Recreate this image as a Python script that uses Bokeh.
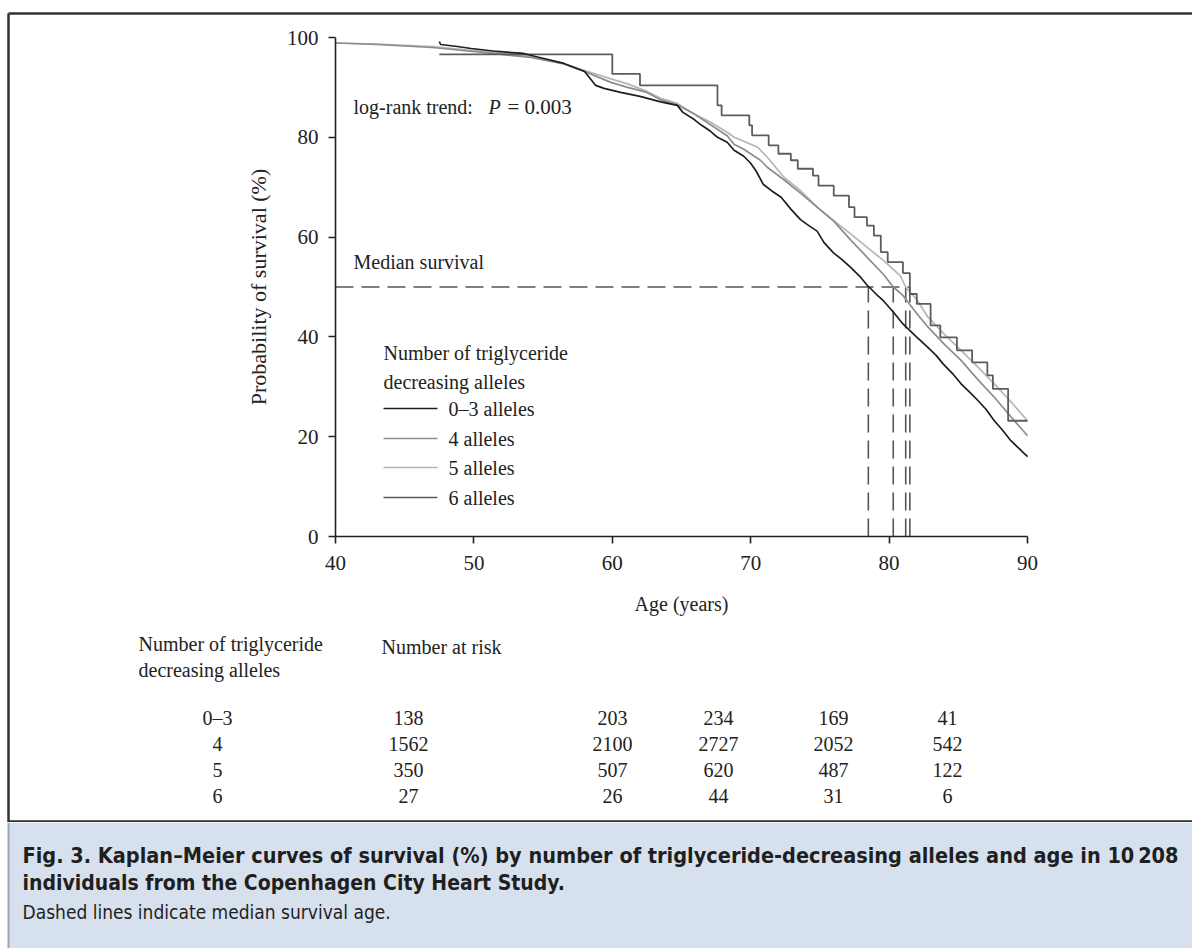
import numpy as np
from bokeh.plotting import figure
from bokeh.models import Range1d, LinearAxis, FixedTicker
from bokeh.layouts import column
from bokeh.embed import file_html
from bokeh.resources import INLINE
from bokeh.core.properties import value

# ---------------- data ----------------
age_03 = [47.5, 47.6, 48.8, 49.8, 51.7, 53.6, 54.6, 56.5, 58.0, 58.8, 59.4, 60.6, 62.0, 63.5,
          64.7, 65.1, 65.9, 66.4, 67.1, 67.6, 68.3, 68.8, 69.5, 70.0, 70.4, 70.9, 71.5, 72.2,
          72.9, 73.6, 74.2, 74.8, 75.3, 76.0, 76.6, 77.2, 77.9, 78.4, 78.7, 79.2, 79.6, 80.3,
          81.0, 81.9, 82.8, 83.4, 83.9, 84.6, 85.2, 85.8, 86.4, 87.0, 87.6, 88.2, 88.8, 89.4, 90.0]
surv_03 = [99.2, 98.6, 98.2, 97.8, 97.2, 96.8, 96.1, 94.8, 93.2, 90.4, 89.8, 89.0, 88.2, 87.1,
           86.4, 85.0, 83.6, 82.5, 81.2, 80.0, 79.0, 77.4, 76.2, 74.8, 73.2, 70.6, 69.3, 68.0,
           65.6, 63.5, 62.3, 61.2, 58.9, 56.8, 55.5, 54.0, 52.1, 50.4, 49.6, 48.2, 47.2, 45.0,
           42.6, 40.2, 37.9, 36.3, 34.6, 32.6, 30.6, 29.0, 27.3, 25.5, 23.2, 21.3, 19.2, 17.6, 16.0]

age_4 = [40.0, 43.0, 47.0, 49.2, 51.7, 54.1, 56.5, 57.9, 59.9, 61.1, 62.5, 63.5, 64.7, 65.9,
         67.1, 68.3, 68.8, 69.5, 70.7, 71.2, 72.4, 73.6, 74.8, 76.0, 77.2, 78.4, 79.6, 80.3,
         81.0, 82.0, 82.8, 84.0, 85.2, 86.4, 87.6, 88.8, 90.0]
surv_4 = [98.9, 98.6, 98.0, 97.4, 96.7, 96.0, 94.7, 93.3, 91.0, 90.0, 89.0, 87.5, 86.5, 84.7,
          82.5, 80.3, 78.6, 77.6, 75.4, 74.0, 71.5, 68.8, 66.0, 63.2, 59.5, 56.0, 52.5, 50.0,
          48.3, 44.7, 42.0, 38.5, 35.3, 31.5, 27.9, 24.0, 20.2]

age_5 = [40.0, 43.0, 47.0, 49.2, 51.7, 54.1, 56.5, 57.9, 59.9, 61.1, 62.5, 63.5, 64.7, 65.9,
         67.1, 68.3, 68.8, 69.5, 70.5, 71.2, 72.4, 73.6, 74.8, 76.0, 77.2, 78.4, 79.6, 80.8,
         81.2, 82.0, 82.8, 84.0, 85.2, 86.4, 87.6, 88.8, 90.0]
surv_5 = [98.9, 98.7, 98.2, 97.6, 96.9, 96.2, 94.8, 93.5, 91.7, 90.7, 89.2, 87.8, 86.8, 84.7,
          83.0, 81.0, 80.0, 79.2, 78.0, 76.0, 72.0, 69.3, 66.0, 63.3, 60.7, 58.0, 55.3, 52.3,
          50.0, 47.5, 44.0, 40.5, 37.3, 34.0, 30.6, 27.0, 23.2]

age_6 = [47.5, 60.0, 62.0, 67.6, 67.9, 69.9, 70.1, 71.3, 72.0, 72.9, 73.4, 74.5, 74.9, 76.0,
         77.1, 77.5, 78.4, 78.9, 79.4, 79.9, 81.0, 81.5, 82.0, 83.0, 83.7, 84.9, 86.0, 87.1,
         87.5, 88.6, 90.0]
surv_6 = [96.6, 92.7, 90.4, 86.4, 84.4, 82.4, 80.4, 78.4, 76.7, 75.4, 73.7, 72.3, 70.3, 68.3,
          66.0, 64.0, 62.3, 60.3, 57.0, 55.0, 52.8, 48.6, 46.6, 42.3, 39.9, 37.3, 34.9, 32.3,
          29.6, 23.2, 23.2]

median_ages = [78.5, 80.3, 81.2, 81.5]
median_level = 50

legend_labels = ["0\u20133 alleles", "4 alleles", "5 alleles", "6 alleles"]
risk_groups = ["0\u20133", "4", "5", "6"]
risk_0_3 = [138, 203, 234, 169, 41]
risk_4 = [1562, 2100, 2727, 2052, 542]
risk_5 = [350, 507, 620, 487, 122]
risk_6 = [27, 26, 44, 31, 6]

x_ticks = [40, 50, 60, 70, 80, 90]
y_ticks = [0, 20, 40, 60, 80, 100]

# ---------------- layout / style ----------------
W, H1, H2 = 1192, 822, 126
PX_L, PX_R, PY_T, PY_B = 335, 1027, 37, 536
sx = (PX_R - PX_L) / 50.0
sy = (PY_B - PY_T) / 100.0
x_start = 40 - PX_L / sx
x_end = 90 + (W - PX_R) / sx
y_end = 100 + PY_T / sy
y_start = 0 - (H1 - PY_B) / sy

colors = ["#1e1e1e", "#8c8c8c", "#b6b6b6", "#5c5c5c"]
SERIF = value("Liberation Serif")
TXT = "#222222"
FS = value("20px")

p = figure(width=W, height=H1, x_range=Range1d(x_start, x_end), y_range=Range1d(y_start, y_end),
           x_axis_type=None, y_axis_type=None, toolbar_location=None, output_backend="svg",
           min_border=0, min_border_left=0, min_border_right=0, min_border_top=0, min_border_bottom=0)
p.outline_line_color = None
p.background_fill_color = "white"
p.border_fill_color = "white"
p.title.visible = False
p.extra_x_ranges = {"px": Range1d(0, W)}
p.extra_y_ranges = {"px": Range1d(H1, 0)}

def style_axis(ax, label_size):
    ax.axis_line_color = "#222222"
    ax.axis_line_width = 1.6
    ax.major_tick_line_color = "#222222"
    ax.major_tick_line_width = 1.6
    ax.major_tick_out = 7
    ax.major_tick_in = 0
    ax.minor_tick_line_color = None
    ax.major_label_text_font = "Liberation Serif"
    ax.major_label_text_font_size = "21px"
    ax.major_label_text_color = TXT
    ax.axis_label_text_font = "Liberation Serif"
    ax.axis_label_text_font_size = label_size
    ax.axis_label_text_font_style = "normal"
    ax.axis_label_text_color = TXT

xaxis = LinearAxis(fixed_location=0, bounds=(40, 90), ticker=FixedTicker(ticks=x_ticks, minor_ticks=[]),
                   axis_label="Age (years)")
style_axis(xaxis, "20px")
xaxis.major_label_standoff = 12
xaxis.axis_label_standoff = 20
p.add_layout(xaxis, "below")

yaxis = LinearAxis(fixed_location=40, bounds=(0, 100), ticker=FixedTicker(ticks=y_ticks, minor_ticks=[]),
                   axis_label="Probability of survival (%)")
style_axis(yaxis, "22px")
yaxis.major_label_standoff = 10
yaxis.axis_label_standoff = 13
p.add_layout(yaxis, "left")

# outer frame of the figure
p.segment(x0=[8, 8, 8], y0=[13, 13, 821], x1=[8, W, W], y1=[822, 13, 821],
          line_color="#333333", line_width=2.5, x_range_name="px", y_range_name="px")

# median survival dashed lines
p.segment(x0=[40], y0=[median_level], x1=[max(median_ages)], y1=[median_level],
          line_color="#555555", line_width=1.6, line_dash="18 8")
p.segment(x0=median_ages, y0=[0] * len(median_ages), x1=median_ages, y1=[median_level] * len(median_ages),
          line_color="#555555", line_width=1.6, line_dash="18 8")

# survival curves
p.line(age_5, surv_5, line_color=colors[2], line_width=1.7)
p.line(age_4, surv_4, line_color=colors[1], line_width=1.7)
p.step(age_6, surv_6, mode="after", line_color=colors[3], line_width=1.8)
p.line(age_03, surv_03, line_color=colors[0], line_width=1.7)

# annotations inside the plot
p.text(x=[353], y=[106], text=["log-rank trend:"], text_font=SERIF, text_font_size=FS,
       text_color=TXT, text_baseline="alphabetic", x_range_name="px", y_range_name="px")
p.text(x=[488], y=[106], text=["P"], text_font=SERIF, text_font_size=FS, text_font_style="italic",
       text_color=TXT, text_baseline="alphabetic", x_range_name="px", y_range_name="px")
p.text(x=[507], y=[106], text=["= 0.003"], text_font=SERIF, text_font_size=value("21px"),
       text_color=TXT, text_baseline="alphabetic", x_range_name="px", y_range_name="px")
p.text(x=[353], y=[261], text=["Median survival"], text_font=SERIF, text_font_size=FS,
       text_color=TXT, text_baseline="alphabetic", x_range_name="px", y_range_name="px")

# legend (drawn by hand)
p.text(x=[383, 383], y=[352, 381], text=["Number of triglyceride", "decreasing alleles"],
       text_font=SERIF, text_font_size=FS, text_color=TXT, text_baseline="alphabetic",
       x_range_name="px", y_range_name="px")
leg_y = [408, 438, 467, 497]
p.segment(x0=[383] * 4, y0=leg_y, x1=[437] * 4, y1=leg_y, line_color=colors, line_width=1.7,
          x_range_name="px", y_range_name="px")
p.text(x=[448] * 4, y=leg_y, text=legend_labels, text_font=SERIF, text_font_size=FS,
       text_color=TXT, text_baseline="middle", x_range_name="px", y_range_name="px")

# number at risk table
p.text(x=[138, 138], y=[643, 669], text=["Number of triglyceride", "decreasing alleles"],
       text_font=SERIF, text_font_size=FS, text_color=TXT, text_baseline="alphabetic",
       x_range_name="px", y_range_name="px")
p.text(x=[381], y=[646], text=["Number at risk"], text_font=SERIF, text_font_size=FS,
       text_color=TXT, text_baseline="alphabetic", x_range_name="px", y_range_name="px")
row_y = [717, 743, 769, 795]
col_x = [408, 612, 718, 833, 947]
p.text(x=[217] * 4, y=row_y, text=risk_groups, text_font=SERIF, text_font_size=FS, text_color=TXT,
       text_align="center", text_baseline="alphabetic", x_range_name="px", y_range_name="px")
for ry, row in zip(row_y, [risk_0_3, risk_4, risk_5, risk_6]):
    p.text(x=col_x, y=[ry] * len(row), text=[str(v) for v in row], text_font=SERIF, text_font_size=FS,
           text_color=TXT, text_align="center", text_baseline="alphabetic",
           x_range_name="px", y_range_name="px")

# ---------------- caption panel ----------------
c = figure(width=W, height=H2, x_range=Range1d(0, W), y_range=Range1d(H2, 0),
           x_axis_type=None, y_axis_type=None, toolbar_location=None, output_backend="svg",
           min_border=0, min_border_left=0, min_border_right=0, min_border_top=0, min_border_bottom=0)
c.outline_line_color = None
c.title.visible = False
c.background_fill_color = "white"
c.border_fill_color = "white"
c.quad(left=[8], right=[W], top=[0], bottom=[H2], fill_color="#d7e1ee", line_color=None)
c.segment(x0=[8], y0=[0], x1=[8], y1=[H2], line_color="#9aa6b5", line_width=2)
SANS = value("DejaVu Sans Condensed")
c.text(x=[22], y=[33], text=["Fig. 3. Kaplan\u2013Meier curves of survival (%) by number of triglyceride-decreasing alleles and age in 10\u2009208"],
       text_font=SANS, text_font_size=value("21.5px"), text_font_style="bold", text_color="#1f1f1f",
       text_baseline="alphabetic")
c.text(x=[22], y=[60], text=["individuals from the Copenhagen City Heart Study."],
       text_font=SANS, text_font_size=value("21px"), text_font_style="bold", text_color="#1f1f1f",
       text_baseline="alphabetic")
c.text(x=[22], y=[89], text=["Dashed lines indicate median survival age."],
       text_font=SANS, text_font_size=value("19px"), text_color="#1f1f1f",
       text_baseline="alphabetic")

layout = column(p, c, spacing=0)
open("out.html", "w").write(file_html(layout, INLINE))
